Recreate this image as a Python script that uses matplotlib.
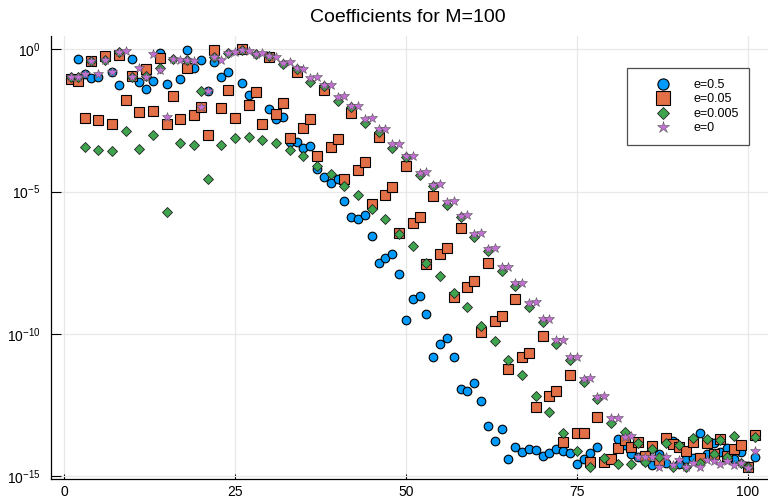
import numpy as np
import matplotlib
matplotlib.use("Agg")
import matplotlib.pyplot as plt
from matplotlib.ticker import FixedLocator, NullLocator, FuncFormatter

plt.rcParams['font.family'] = ['Liberation Sans', 'DejaVu Sans']
plt.rcParams['mathtext.fontset'] = 'custom'
plt.rcParams['mathtext.rm'] = 'Liberation Sans'
plt.rcParams['mathtext.it'] = 'Liberation Sans:italic'
plt.rcParams['mathtext.bf'] = 'Liberation Sans:bold'

# coefficient index 1..101
index = list(range(1, 102))

# log10 of coefficient magnitudes
log_e05 = [-1.03, -0.33, -0.86, -1.00, -0.97, -0.24, -0.79, -1.26, -1.79, -0.35,
           -1.15, -1.40, -1.10, -0.13, -1.23, -1.64, -1.05, -0.01, -0.67, -0.38,
           -1.48, -0.46, -0.97, -0.79, -2.40, -1.17, -1.61, -1.50, -2.61, -2.11,
           -2.46, -2.37, -3.25, -3.24, -3.48, -3.40, -4.21, -4.47, -4.68, -4.56,
           -5.32, -5.90, -5.96, -5.82, -6.54, -7.49, -7.34, -7.19, -7.89, -9.50,
           -8.77, -8.65, -9.30, -10.79, -10.36, -10.15, -10.81, -11.94, -11.99, -11.73,
           -12.34, -13.23, -13.75, -13.33, -14.40, -13.95, -14.13, -14.03, -14.07, -14.28,
           -14.19, -14.02, -14.10, -14.19, -14.56, -14.40, -14.16, -13.95, -14.50, -14.40,
           -13.69, -13.90, -14.20, -14.33, -14.45, -14.60, -14.21, -14.54, -13.75, -14.55,
           -14.40, -14.35, -13.48, -14.21, -13.81, -14.13, -14.00, -14.39, -14.13, -14.62,
           -14.30]

log_e005 = [-1.04, -1.10, -2.40, -0.41, -2.48, -0.23, -2.61, -0.19, -1.79, -0.93,
            -2.20, -0.69, -2.16, -0.29, -2.63, -1.63, -2.43, -0.64, -2.31, -2.02,
            -3.01, -0.02, -2.05, -1.43, -2.40, 0.02, -1.96, -1.50, -2.61, -0.26,
            -2.26, -1.87, -3.10, -0.79, -2.75, -2.45, -3.75, -1.43, -3.44, -3.14,
            -4.55, -2.23, -4.24, -3.95, -5.44, -3.09, -5.12, -4.85, -6.44, -4.09,
            -6.10, -5.88, -7.54, -5.15, -7.19, -6.97, -8.69, -6.26, -8.34, -8.12,
            -9.92, -7.49, -9.53, -9.35, -11.21, -8.76, -10.82, -10.65, -12.55, -10.06,
            -12.16, -11.99, -13.78, -11.44, -13.48, -13.46, -14.50, -12.90, -14.50, -14.40,
            -14.01, -13.72, -13.95, -13.78, -14.28, -13.93, -14.42, -13.66, -13.86, -13.95,
            -14.09, -13.78, -14.36, -13.81, -14.21, -13.69, -14.28, -14.03, -13.90, -14.68,
            -13.54]

log_e0005 = [-0.96, -0.98, -3.43, -0.41, -3.55, -0.39, -3.57, -0.09, -2.87, -0.96,
             -3.49, -0.92, -3.02, -0.66, -5.71, -0.35, -3.29, -0.39, -3.36, -1.46,
             -4.54, -0.26, -3.35, -0.13, -3.11, -0.03, -3.08, -0.18, -3.18, -0.25,
             -3.30, -0.52, -3.55, -0.70, -3.76, -1.14, -4.10, -1.28, -4.38, -1.80,
             -4.80, -2.02, -5.12, -2.58, -5.61, -2.89, -5.97, -3.45, -6.50, -3.79,
             -6.91, -4.41, -7.51, -4.80, -7.96, -5.48, -8.57, -5.90, -9.04, -6.60,
             -9.71, -7.07, -10.23, -7.77, -10.91, -8.30, -11.44, -9.04, -12.17, -9.56,
             -12.75, -10.35, -13.48, -10.91, -14.10, -11.67, -14.68, -12.29, -14.36, -13.13,
             -14.56, -13.45, -14.55, -13.84, -14.48, -14.03, -14.31, -13.84, -14.68, -13.90,
             -14.68, -13.66, -14.53, -13.70, -14.21, -13.72, -14.30, -13.58, -14.54, -14.65,
             -13.62]

log_e0 = [-0.96, -0.98, -0.87, -0.41, -0.87, -0.39, -0.78, -0.09, -0.06, -0.96,
          -0.67, -0.96, -0.15, -0.74, -2.38, -0.35, -0.37, -0.39, -0.42, -2.03,
          -1.48, -0.26, -0.38, -0.13, -0.11, -0.02, -0.07, -0.16, -0.12, -0.24,
          -0.26, -0.49, -0.45, -0.67, -0.69, -1.02, -0.98, -1.25, -1.25, -1.69,
          -1.64, -1.99, -1.99, -2.46, -2.42, -2.81, -2.81, -3.34, -3.33, -3.75,
          -3.75, -4.33, -4.30, -4.75, -4.74, -5.36, -5.33, -5.84, -5.82, -6.49,
          -6.45, -7.00, -6.98, -7.64, -7.63, -8.22, -8.20, -8.91, -8.89, -9.48,
          -9.47, -10.19, -10.19, -10.81, -10.80, -11.56, -11.55, -12.20, -12.18, -12.96,
          -12.95, -13.60, -13.58, -14.32, -14.32, -14.33, -14.67, -14.32, -14.61, -14.42,
          -14.67, -14.52, -14.68, -14.41, -14.47, -14.56, -14.47, -14.61, -14.54, -14.70,
          -14.09]

labels = ["e=0.5", "e=0.05", "e=0.005", "e=0"]
colors = ["#009AFA", "#E36F47", "#3EA44E", "#C271D2"]
yticks_exp = [0, -5, -10, -15]
xticks = [0, 25, 50, 75, 100]

W, H = 768, 499
L, R, T, B = 50.7, 768, 36, 479
fig = plt.figure(figsize=(W / 100, H / 100), dpi=100)
ax = fig.add_axes([L / W, 1 - B / H, (R - L) / W, (B - T) / H])

series = [log_e05, log_e005, log_e0005, log_e0]
markers = ['o', 's', 'D', '*']
msizes = [6.2, 7.2, 4.7, 7.0]
mews = [0.8, 0.8, 0.6, 0.4]
mecs = ['black', 'black', '#222222', '#555555']
for s, lab, c, m, ms, mew, mec in zip(series, labels, colors, markers, msizes, mews, mecs):
    ax.plot(index, np.power(10.0, s), ls='none', marker=m, ms=ms,
            mfc=c, mec=mec, mew=mew, label=lab)

ax.set_yscale('log')
ax.set_ylim(10 ** -15.088, 10 ** 0.467)
ax.set_xlim(-1.96, (R - 64.1) / 6.836)
ax.yaxis.set_major_locator(FixedLocator([10.0 ** e for e in yticks_exp]))
ax.yaxis.set_minor_locator(NullLocator())
ax.yaxis.set_major_formatter(FuncFormatter(
    lambda v, p: r'$\mathregular{10^{%d}}$' % int(round(np.log10(v)))))
ax.xaxis.set_major_locator(FixedLocator(xticks))
ax.xaxis.set_minor_locator(NullLocator())

ax.grid(True, color='#e8e8e8', lw=0.9)
ax.set_axisbelow(True)
for sp in ['top', 'right']:
    ax.spines[sp].set_visible(False)
for sp in ['left', 'bottom']:
    ax.spines[sp].set_linewidth(0.9)
    ax.spines[sp].set_color('black')
ax.tick_params(axis='y', direction='in', length=7.5, width=0.8, pad=7.5,
               labelsize=10, colors='black')
ax.tick_params(axis='x', direction='in', length=3.6, width=0.8, pad=4.5,
               labelsize=10, colors='black')

leg = ax.legend(loc='upper left', bbox_to_anchor=((627 - L) / (R - L), (B - 68.3) / (B - T)),
                borderaxespad=0, fontsize=9.0, frameon=True, fancybox=False,
                borderpad=0.85, handlelength=4.0, handletextpad=0.45,
                labelspacing=0.2, markerscale=1.3, numpoints=1)
leg.get_frame().set_edgecolor('#222222')
leg.get_frame().set_linewidth(0.9)

fig.text(408 / W, 1 - 17 / H, 'Coefficients for M=100', ha='center', va='center',
         fontsize=14)

fig.savefig('out.png', dpi=100)
